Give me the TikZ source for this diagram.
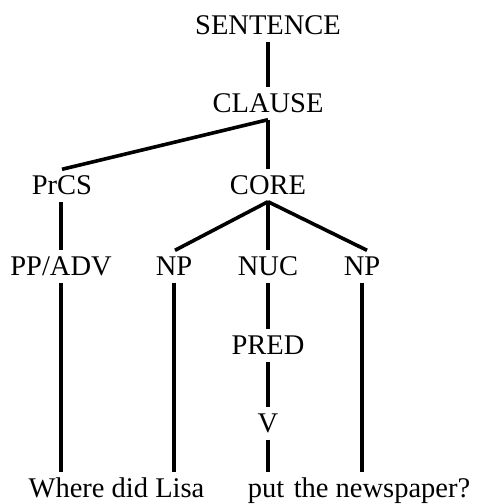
\documentclass[tikz,border=0pt]{standalone}
\usepackage{fontspec}
\setmainfont{Liberation Serif}
\begin{document}
\begin{tikzpicture}[x=1pt,y=1pt,
  lbl/.style={anchor=base,inner xsep=0pt,inner ysep=6.5pt,text height=19pt,text depth=0pt,
    font=\fontsize{28.5}{34}\selectfont},
  branch/.style={line width=3.6pt,line cap=butt}]
\useasboundingbox (0,0) rectangle (482,504);
% category labels
\node[lbl] (sent)   at (268,469) {SENTENCE};
\node[lbl] (clause) at (268,391) {CLAUSE};
\node[lbl] (prcs)   at (62,309)  {PrCS};
\node[lbl] (core)   at (268,309) {CORE};
\node[lbl] (ppadv)  at (61,228)  {PP/ADV};
\node[lbl] (npa)    at (174,228) {NP};
\node[lbl] (nuc)    at (268,228) {NUC};
\node[lbl] (npb)    at (362,228) {NP};
\node[lbl] (pred)   at (268,149) {PRED};
\node[lbl] (verb)   at (268,71)  {V};
% the sentence itself
\node[lbl] (wdl)    at (116.5,6.5) {Where did Lisa};
\node[lbl] (put)    at (266,6.5)   {put};
\node[lbl] (paper)  at (382,6.5)   {the newspaper?};
% branches
\draw[branch] (sent.south) -- (clause.north);
\draw[branch] (clause.south) -- (prcs.north);
\draw[branch] (clause.south) -- (core.north);
\draw[branch] ([xshift=-1pt]prcs.south) -- (ppadv.north);
\draw[branch] (core.south) -- ([xshift=1pt]npa.north);
\draw[branch] (core.south) -- (nuc.north);
\draw[branch] (core.south) -- ([xshift=5pt]npb.north);
\draw[branch] (nuc.south) -- (pred.north);
\draw[branch] (pred.south) -- (verb.north);
\draw[branch] (ppadv.south) -- (ppadv.south |- wdl.north);
\draw[branch] (npa.south) -- (npa.south |- wdl.north);
\draw[branch] (verb.south) -- (verb.south |- put.north);
\draw[branch] (npb.south) -- (npb.south |- paper.north);
\end{tikzpicture}
\end{document}
